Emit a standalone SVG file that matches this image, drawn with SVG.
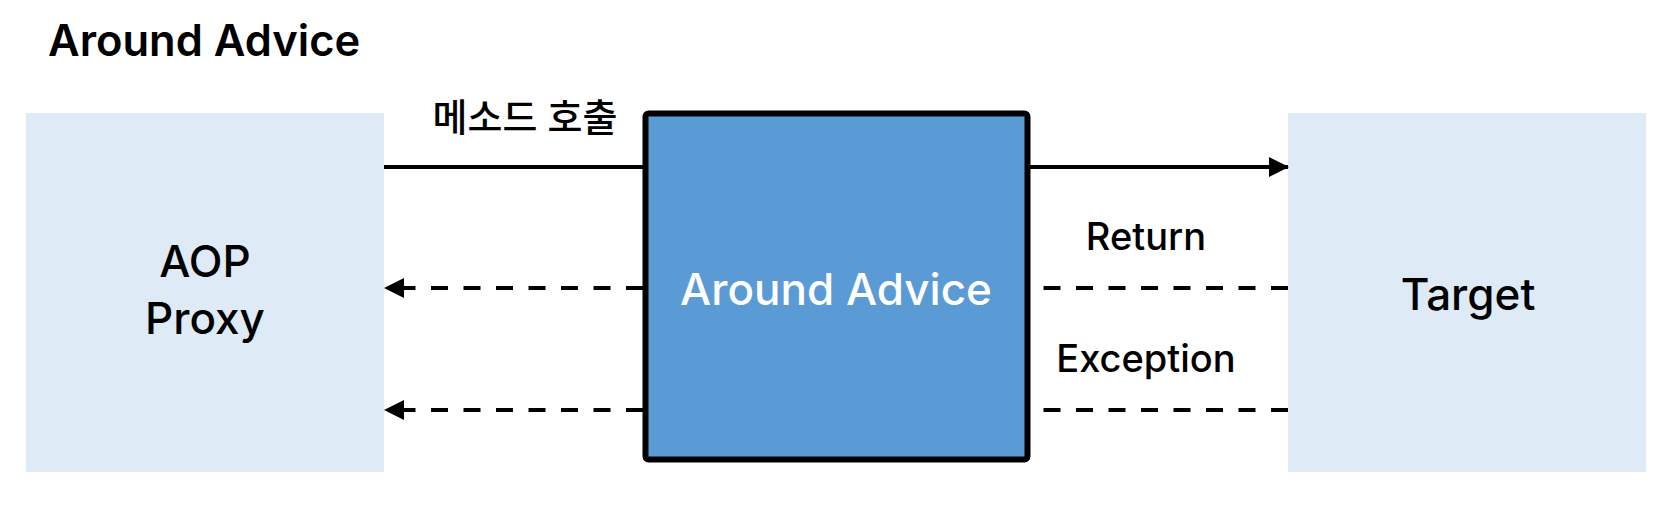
<svg xmlns="http://www.w3.org/2000/svg" width="1678" height="506" viewBox="0 0 1678 506">
<style>
text{font-family:Inter,"Noto Sans CJK KR","Noto Sans",sans-serif;fill:#000}
.side{fill:#DEEBF6}
.lbl{font-size:38px;font-weight:500;text-anchor:middle}
.big{font-size:44px;font-weight:500;text-anchor:middle}
.conn{stroke:#000;stroke-width:4;fill:none}
.dash{stroke-dasharray:17 15.5}
</style>
<defs>
<marker id="arr" markerWidth="20" markerHeight="20" refX="19" refY="10" orient="auto" markerUnits="userSpaceOnUse">
<path d="M0,0 L20,10 L0,20 Z" fill="#000"/>
</marker>
</defs>
<text x="48" y="56" style="font-size:43.5px;font-weight:600">Around Advice</text>
<g id="proxy">
<rect class="side" x="26" y="113" width="358" height="359"/>
<text class="big" x="205" y="277">AOP</text>
<text class="big" x="205" y="334">Proxy</text>
</g>
<g id="target">
<rect class="side" x="1288" y="113" width="358" height="359"/>
<text class="big" x="1468" y="310">Target</text>
</g>
<g id="connectors">
<line class="conn" x1="384" y1="167" x2="645" y2="167"/>
<line class="conn" x1="1028" y1="167" x2="1288" y2="167" marker-end="url(#arr)"/>
<line class="conn dash" x1="1288" y1="288" x2="1030" y2="288"/>
<line class="conn dash" x1="1288" y1="410" x2="1030" y2="410"/>
<line class="conn dash" x1="643" y1="288" x2="385" y2="288" marker-end="url(#arr)"/>
<line class="conn dash" x1="643" y1="410" x2="385" y2="410" marker-end="url(#arr)"/>
<text class="lbl" x="525" y="131">메소드 호출</text>
<text class="lbl" x="1146" y="250">Return</text>
<text class="lbl" x="1146" y="372">Exception</text>
</g>
<g id="advice">
<rect x="645.5" y="113.5" width="382" height="346" rx="3" fill="#5B9BD5" stroke="#000" stroke-width="6"/>
<text class="big" x="836" y="305" style="fill:#fff">Around Advice</text>
</g>
</svg>
